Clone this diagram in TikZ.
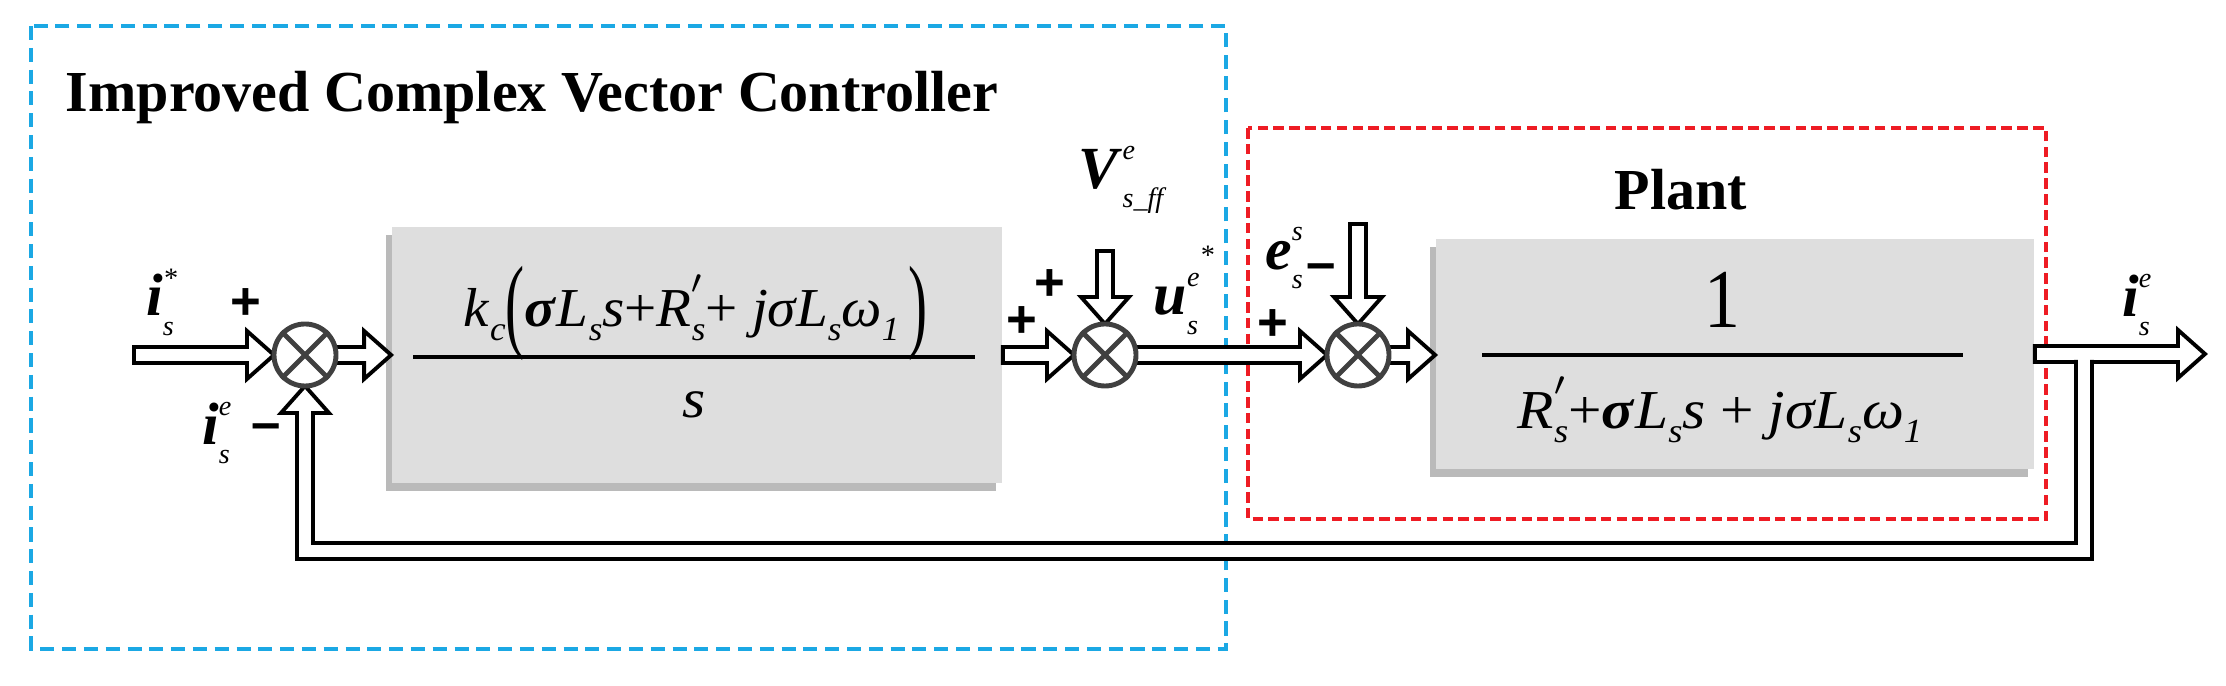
\documentclass[tikz,border=0pt]{standalone}
\usepackage{fontspec}
\setmainfont{Liberation Serif}
\newfontfamily\sansb{Liberation Sans}
\usetikzlibrary{calc,shadows}
\definecolor{cblue}{HTML}{1BA8E4}
\definecolor{cred}{HTML}{EE1C24}
\newcommand\SW{0.08cm}
\newcommand\HL{0.27cm}
\newcommand\HW{0.24cm}
\newcommand\HArr[2]{\draw[hollow] let \p1=(#1), \p2=(#2) in (\x1,\y1+\SW) -- (\x2-\HL,\y1+\SW) -- (\x2-\HL,\y1+\HW) -- (\x2,\y1) -- (\x2-\HL,\y1-\HW) -- (\x2-\HL,\y1-\SW) -- (\x1,\y1-\SW) -- cycle;}
\newcommand\VDown[2]{\draw[hollow] let \p1=(#1), \p2=(#2) in (\x2+\SW,\y1) -- (\x2+\SW,\y2+\HL) -- (\x2+\HW,\y2+\HL) -- (\x2,\y2) -- (\x2-\HW,\y2+\HL) -- (\x2-\SW,\y2+\HL) -- (\x2-\SW,\y1) -- cycle;}
\newcommand\bi[1]{\textbf{\textit{#1}}}
\newcommand\ti[1]{\textit{#1}}
\newcommand\scr[1]{{\fontsize{8}{8}\selectfont\textit{#1}}}
\newcommand\lbl[3]{\bi{#1}\makebox[0pt][l]{\raisebox{1.05ex}{\scr{#2}}}\raisebox{-0.7ex}{\scr{#3}}}
\newcommand\subi[1]{\raisebox{-0.55ex}{\fontsize{8}{8}\selectfont\textit{#1}}}
\newcommand\bigp[1]{\raisebox{-0.45ex}{\scalebox{1}[1.9]{#1}}}
\begin{document}
\begin{tikzpicture}[x=0.01cm,y=-0.01cm,
  hollow/.style={draw=black,fill=white,line width=1.1pt,line join=miter},
  sum/.style={circle,draw=black!75,line width=1.4pt,minimum size=0.62cm,inner sep=0pt,fill=white},
  block/.style={fill=black!13,draw=none,inner sep=0pt,drop shadow={shadow xshift=-0.06cm,shadow yshift=-0.08cm,opacity=0.45,fill=black!60}},
  lab/.style={inner sep=0pt,font=\fontsize{17}{19}\selectfont},
  sgn/.style={inner sep=0pt,font=\sansb\bfseries\fontsize{15}{17}\selectfont},
  ttl/.style={inner sep=0pt,font=\bfseries\fontsize{16.5}{19}\selectfont},
  frm/.style={inner sep=0pt,font=\fontsize{13}{15}\selectfont}]
\useasboundingbox (0,0) rectangle (2226,686);
% frames
\draw[cblue,line width=1.1pt,dash pattern=on 4pt off 2.2pt] (31,26) rectangle (1226,649);
\draw[cred,line width=1.3pt,dash pattern=on 3pt off 1.5pt] (1248,128) rectangle (2046,519);
\node[ttl] (title) at (532,98) {Improved Complex Vector Controller};
\node[ttl] (plant) at (1681,190) {Plant};
% blocks
\node[block,minimum width=6.1cm,minimum height=2.55cm] (b1) at (697,355) {};
\node[block,minimum width=5.98cm,minimum height=2.29cm] (b2) at (1735,354) {};
\coordinate (r1a) at (413,357); \coordinate (r1b) at (975,357);
\draw[line width=1.2pt] (r1a) -- (r1b);
\node[frm] (num1) at (696,313) {\scalebox{1.25}[1.2]{\ti{k}\subi{c}\bigp{(}\bi{σ}\ti{L}\subi{s}\ti{s}+\ti{R}\makebox[0pt][l]{\raisebox{1.3ex}{\scr{$\prime$}}}\subi{s}+ \ti{jσL}\subi{s}\ti{ω}\subi{1}\,\bigp{)}}};
\node[frm] (den1) at (694,405) {\scalebox{1.3}[1.2]{\ti{s}}};
\coordinate (r2a) at (1482,355); \coordinate (r2b) at (1963,355);
\draw[line width=1.2pt] (r2a) -- (r2b);
\node[frm,font=\fontsize{17}{19}\selectfont] (num2) at (1722,300) {\scalebox{1.2}[1.4]{1}};
\node[frm] (den2) at (1720,410) {\scalebox{1.3}[1.2]{\ti{R}\makebox[0pt][l]{\raisebox{1.3ex}{\scr{$\prime$}}}\subi{s}+\bi{σ}\ti{L}\subi{s}\ti{s} + \ti{jσL}\subi{s}\ti{ω}\subi{1}}};
% summing junctions (positions)
\coordinate (c1) at (305,355);
\coordinate (c2) at (1105,355);
\coordinate (c3) at (1358,355);
\coordinate (in) at (134,355);
\coordinate (out) at (2205,355);
\coordinate (vff) at (1105,251);
\coordinate (es) at (1358,224);
\coordinate (fb) at (2084,551);
% arrows
\HArr{in}{$(c1)+(-31,0)$}
\HArr{$(c1)+(31,0)$}{b1.west}
\HArr{b1.east}{$(c2)+(-31,0)$}
\HArr{$(c2)+(31,0)$}{$(c3)+(-31,0)$}
\HArr{$(c3)+(31,0)$}{b2.west}
\HArr{b2.east}{out}
\VDown{vff}{$(c2)+(0,-31)$}
\VDown{es}{$(c3)+(0,-31)$}
% feedback
\filldraw[hollow] let \p1=($(c1)+(0,31)$), \p2=(fb), \p3=(b2.east) in
  (\x2+\SW,\y3-\SW+0.6pt) -- (\x2+\SW,\y2-\SW) -- (\x1-\SW,\y2-\SW) -- (\x1-\SW,\y1-\HL) -- (\x1-\HW,\y1-\HL) -- (\x1,\y1) -- (\x1+\HW,\y1-\HL) -- (\x1+\SW,\y1-\HL) -- (\x1+\SW,\y2+\SW) -- (\x2-\SW,\y2+\SW) -- (\x2-\SW,\y3-\SW+0.6pt);
% sums
\foreach \c/\n in {c1/s1,c2/s2,c3/s3}{
  \node[sum] (\n) at (\c) {};
  \draw[black!75,line width=1.4pt] (\n.north east) -- (\n.south west) (\n.north west) -- (\n.south east);
}
% labels
\node[lab] (li1) at (160,302) {\lbl{i}{*}{s}};
\node[sgn] (p1) at (246,304) {+};
\node[lab] (li2) at (216,433) {\lbl{i}{e}{s}};
\node[sgn] (m1) at (266,432) {\textendash};
\node[sgn] (p2) at (1022,322) {+};
\node[sgn] (p3) at (1050,285) {+};
\node[lab,anchor=west] (lv) at (1078,180) {\lbl{V}{e}{s\_ff}};
\node[lab] (lu) at (1176,290) {\bi{u}\makebox[0pt][l]{\raisebox{1.05ex}{\scr{e}\raisebox{0.8ex}{\scr{*}}}}\raisebox{-0.7ex}{\scr{s}}};
\node[lab] (le) at (1284,258) {\lbl{e}{s}{s}};
\node[sgn] (m2) at (1321,272) {\textendash};
\node[sgn] (p4) at (1273,325) {+};
\node[lab] (lo) at (2136,305) {\lbl{i}{e}{s}};
\end{tikzpicture}
\end{document}
